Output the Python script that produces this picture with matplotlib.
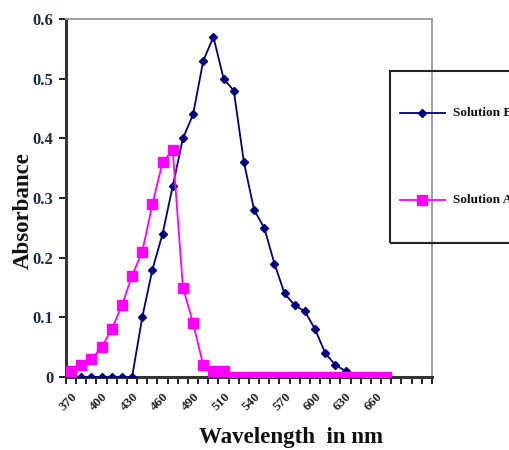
import matplotlib
matplotlib.use("Agg")
import matplotlib.pyplot as plt
from matplotlib.lines import Line2D
from matplotlib.patches import Rectangle
import numpy as np

wavelengths = [370, 380, 390, 400, 410, 420, 430, 440, 450, 460, 470, 480, 490,
               495, 500, 510, 520, 530, 540, 550, 560, 570, 580, 590, 600, 610,
               620, 630, 640, 650, 660, 670]
solution_b = [0, 0, 0, 0, 0, 0, 0, 0.10, 0.18, 0.24, 0.32, 0.40, 0.44, 0.53,
              0.57, 0.50, 0.48, 0.36, 0.28, 0.25, 0.19, 0.14, 0.12, 0.11, 0.08,
              0.04, 0.02, 0.01, 0, 0, 0, 0]
solution_a = [0.01, 0.02, 0.03, 0.05, 0.08, 0.12, 0.17, 0.21, 0.29, 0.36, 0.38,
              0.15, 0.09, 0.02, 0.01, 0.01, 0, 0, 0, 0, 0, 0, 0, 0, 0, 0, 0, 0,
              0, 0, 0, 0]
labeled_ticks = [370, 400, 430, 460, 490, 510, 540, 570, 600, 630, 660]
y_ticks = [0, 0.1, 0.2, 0.3, 0.4, 0.5, 0.6]
n_axis_categories = 36

serif = ['Liberation Serif', 'DejaVu Serif']
plt.rcParams['font.family'] = serif

W, H = 510, 450
fig = plt.figure(figsize=(W / 100, H / 100), dpi=100)
ax = fig.add_axes([66 / W, 1 - 377 / H, (432 - 66) / W, (377 - 19) / H])

x = np.arange(len(wavelengths))
lb, = ax.plot(x, solution_b, color='#000080', marker='D', markersize=4,
              linewidth=1.3, label='Solution B', zorder=3)
la, = ax.plot(x, solution_a, color='#FF00FF', marker='s', markersize=6.5,
              linewidth=1.3, label='Solution A', zorder=4)

ax.set_xlim(-0.5, n_axis_categories - 0.5)
ax.set_ylim(0, 0.6)

# category boundary tick marks
ax.set_xticks(np.arange(-0.5, n_axis_categories, 1.0))
ax.set_xticklabels([])
ax.tick_params(axis='x', which='major', direction='out', length=5, width=1.2,
               color='black')
# labels at category centres
lab_pos = [wavelengths.index(w) for w in labeled_ticks]
ax.set_xticks(lab_pos, minor=True)
ax.set_xticklabels([str(w) for w in labeled_ticks], minor=True, rotation=45,
                   ha='right', va='top', rotation_mode='anchor',
                   fontsize=9.5, fontweight='bold', color='#222222')
ax.tick_params(axis='x', which='minor', length=0, pad=10)

ax.set_yticks(y_ticks)
ax.set_yticklabels(['0' if v == 0 else f'{v:.1f}' for v in y_ticks],
                   fontsize=12, fontweight='bold', color='#1c2c48')
ax.tick_params(axis='y', direction='out', length=5, width=1.2, pad=4)

for s in ['left', 'bottom']:
    ax.spines[s].set_linewidth(2.2)
    ax.spines[s].set_color('#333333')
for s in ['top', 'right']:
    ax.spines[s].set_linewidth(1.3)
    ax.spines[s].set_color('#999999')

fig.text(23 / W, 1 - 211 / H, 'Absorbance', rotation=90, ha='center',
         va='center', fontsize=16.5, fontweight='bold', color='#111111')
fig.text(291 / W, 1 - 437 / H, 'Wavelength  in nm', ha='center', va='center',
         fontsize=16.5, fontweight='bold', color='#111111')

# legend box (partly cut off by the figure edge)
fig.patches.append(Rectangle((390 / W, 1 - 243 / H), 140 / W, (243 - 71) / H,
                             transform=fig.transFigure, fill=False,
                             edgecolor='#222222', linewidth=1.5))
for line, ypix in [(lb, 113), (la, 200)]:
    yy = 1 - ypix / H
    fig.lines.append(Line2D([400 / W, 445 / W], [yy, yy],
                            transform=fig.transFigure, color=line.get_color(),
                            linewidth=1.3))
    fig.lines.append(Line2D([422 / W], [yy], transform=fig.transFigure,
                            color=line.get_color(), marker=line.get_marker(),
                            markersize=line.get_markersize(), linestyle='none'))
    fig.text(453 / W, yy, line.get_label(), ha='left', va='center',
             fontsize=9.5, fontweight='bold', color='#111111')

fig.savefig('out.png', dpi=100)
